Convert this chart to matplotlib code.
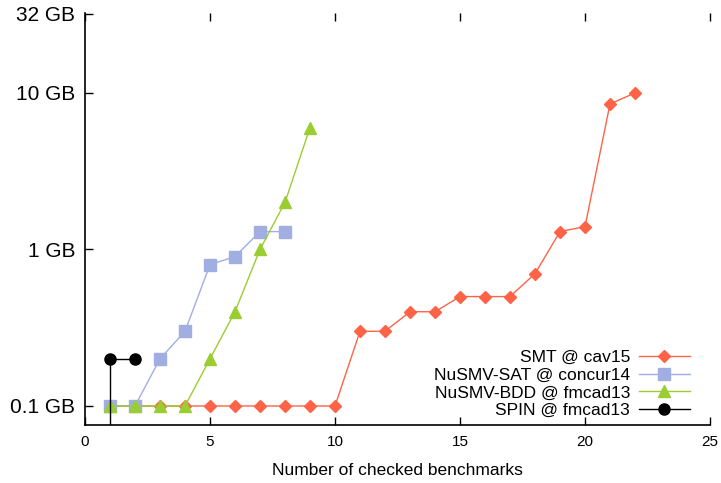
import matplotlib
matplotlib.use("Agg")
import matplotlib.pyplot as plt

plt.rcParams['font.family'] = ['Liberation Sans', 'DejaVu Sans']

smt_x = list(range(1, 23))
smt_y = [0.1, 0.1, 0.1, 0.1, 0.1, 0.1, 0.1, 0.1, 0.1, 0.1,
         0.3, 0.3, 0.4, 0.4, 0.5, 0.5, 0.5, 0.7, 1.3, 1.4, 8.5, 10.0]

sat_x = [1, 2, 3, 4, 5, 6, 7, 8]
sat_y = [0.1, 0.1, 0.2, 0.3, 0.8, 0.9, 1.3, 1.3]

bdd_x = [1, 2, 3, 4, 5, 6, 7, 8, 9]
bdd_y = [0.1, 0.1, 0.1, 0.1, 0.2, 0.4, 1.0, 2.0, 6.0]

spin_x = [1, 1, 2]
spin_y = [0.05, 0.2, 0.2]

labels = ["SMT @ cav15", "NuSMV-SAT @ concur14", "NuSMV-BDD @ fmcad13", "SPIN @ fmcad13"]
yticks = [0.1, 1, 10, 32]
yticklabels = ["0.1 GB", "1 GB", "10 GB", "32 GB"]
xticks = [0, 5, 10, 15, 20, 25]

fig = plt.figure(figsize=(7.21, 4.83), dpi=100)
ax = fig.add_axes([85/721, 58/483, 625/721, 412/483])

ax.plot(smt_x, smt_y, color='#FF6347', lw=1.0, marker='D', ms=6.2, mec='#FF6347', label=labels[0])
ax.plot(sat_x, sat_y, color='#A0AEE2', lw=1.0, marker='s', ms=8.8, mec='#A0AEE2', label=labels[1])
ax.plot(bdd_x, bdd_y, color='#9ACD32', lw=1.0, marker='^', ms=9.2, mec='#9ACD32', label=labels[2])
ax.plot(spin_x, spin_y, color='black', lw=1.0, marker='o', ms=8.0, label=labels[3])

ax.set_yscale('log')
ax.set_ylim(0.0756, 32.4)
ax.set_xlim(0, 25)
ax.set_yticks(yticks)
ax.set_yticklabels(yticklabels)
ax.minorticks_off()
ax.set_xticks(xticks)

for s in ['top', 'right']:
    ax.spines[s].set_visible(False)
for s in ['left', 'bottom']:
    ax.spines[s].set_linewidth(1.2)

ax.tick_params(axis='y', direction='in', length=5.5, width=1.0, labelsize=15, pad=7, right=False)
ax.tick_params(axis='x', direction='in', length=5.5, width=1.0, labelsize=11, pad=7, top=True)

ax.set_xlabel("Number of checked benchmarks", fontsize=12.5, labelpad=10)

leg = ax.legend(loc='lower right', bbox_to_anchor=(0.968, 0.017), frameon=False,
                markerfirst=False, fontsize=12.5, handlelength=2.95, handletextpad=0.5,
                labelspacing=0.14, borderpad=0, borderaxespad=0)

fig.savefig("out.png", dpi=100)
